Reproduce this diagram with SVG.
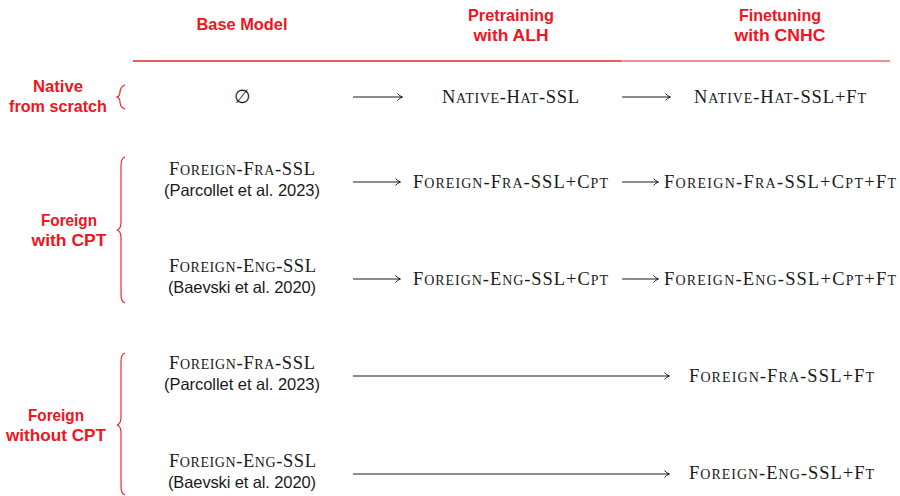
<svg xmlns="http://www.w3.org/2000/svg" width="900" height="496" viewBox="0 0 900 496">
<style>
.hd{font-family:"Liberation Sans",Arial,sans-serif;font-weight:bold;font-size:16.5px;fill:#f0141e;text-anchor:middle}
.sc{font-family:"Liberation Serif","Times New Roman",serif;font-size:18.5px;fill:#1a1a1a}
.s{font-size:14px}
.ref{font-family:"Liberation Sans",Arial,sans-serif;font-size:16.5px;fill:#1a1a1a;text-anchor:middle}
.arr{stroke:#1a1a1a;stroke-width:1.1;fill:none;marker-end:url(#ah)}
.br{stroke:#f0141e;stroke-width:1.1;fill:none}
</style>
<defs>
<marker id="ah" markerWidth="8" markerHeight="8" refX="5.5" refY="4" orient="auto" markerUnits="userSpaceOnUse">
<path d="M1,0.6 Q3,3 6,4 Q3,5 1,7.4" fill="none" stroke="#1a1a1a" stroke-width="1"/>
</marker>
</defs>
<rect width="900" height="496" fill="#fff"/>
<g id="headers">
<text class="hd" x="242" y="30" textLength="91" lengthAdjust="spacingAndGlyphs">Base Model</text>
<text class="hd" x="511" y="21" textLength="86" lengthAdjust="spacingAndGlyphs">Pretraining</text>
<text class="hd" x="511" y="41" textLength="75" lengthAdjust="spacingAndGlyphs">with ALH</text>
<text class="hd" x="780" y="21" textLength="82" lengthAdjust="spacingAndGlyphs">Finetuning</text>
<text class="hd" x="780" y="41" textLength="91" lengthAdjust="spacingAndGlyphs">with CNHC</text>
<line x1="133" y1="61" x2="621" y2="61" stroke="#e8242a" stroke-width="1.3"/>
<line x1="621" y1="61" x2="890" y2="61" stroke="#ef6a6e" stroke-width="1.3"/>
</g>
<g id="group-native">
<text class="hd" x="58" y="92" textLength="50" lengthAdjust="spacingAndGlyphs">Native</text>
<text class="hd" x="58" y="112" textLength="98" lengthAdjust="spacingAndGlyphs">from scratch</text>
<path class="br" d="M125,85 Q120,87 120,92 Q120,96 117,97 Q120,98 120,102 Q120,107 125,109"/>
</g>
<g id="group-cpt">
<text class="hd" x="69" y="226" textLength="56" lengthAdjust="spacingAndGlyphs">Foreign</text>
<text class="hd" x="69" y="246" textLength="75" lengthAdjust="spacingAndGlyphs">with CPT</text>
<path class="br" d="M125,157 Q121,158 121,166 L121,222 Q121,229 117,230 Q121,231 121,238 L121,294 Q121,302 125,303"/>
</g>
<g id="group-nocpt">
<text class="hd" x="56" y="421" textLength="56" lengthAdjust="spacingAndGlyphs">Foreign</text>
<text class="hd" x="56" y="441" textLength="100" lengthAdjust="spacingAndGlyphs">without CPT</text>
<path class="br" d="M125,353 Q121,354 121,362 L121,417 Q121,424 117,425 Q121,426 121,433 L121,486 Q121,494 125,495"/>
</g>
<g id="n-empty"><text class="sc" x="242" y="103" text-anchor="middle" font-size="17">∅</text></g>
<g id="n-native-hat"><text class="sc" x="442" y="103" textLength="137">N<tspan class="s">ATIVE</tspan>-H<tspan class="s">AT</tspan>-SSL</text></g>
<g id="n-native-hat-ft"><text class="sc" x="694" y="103" textLength="172">N<tspan class="s">ATIVE</tspan>-H<tspan class="s">AT</tspan>-SSL+F<tspan class="s">T</tspan></text></g>
<g id="n-fra1"><text class="sc" x="169" y="175" textLength="146">F<tspan class="s">OREIGN</tspan>-F<tspan class="s">RA</tspan>-SSL</text><text class="ref" x="242" y="196" textLength="156">(Parcollet et al. 2023)</text></g>
<g id="n-fra-cpt"><text class="sc" x="413" y="188" textLength="195">F<tspan class="s">OREIGN</tspan>-F<tspan class="s">RA</tspan>-SSL+C<tspan class="s">PT</tspan></text></g>
<g id="n-fra-cpt-ft"><text class="sc" x="664" y="188" textLength="232">F<tspan class="s">OREIGN</tspan>-F<tspan class="s">RA</tspan>-SSL+C<tspan class="s">PT</tspan>+F<tspan class="s">T</tspan></text></g>
<g id="n-eng1"><text class="sc" x="169" y="272" textLength="147">F<tspan class="s">OREIGN</tspan>-E<tspan class="s">NG</tspan>-SSL</text><text class="ref" x="242" y="293" textLength="148">(Baevski et al. 2020)</text></g>
<g id="n-eng-cpt"><text class="sc" x="413" y="285" textLength="195">F<tspan class="s">OREIGN</tspan>-E<tspan class="s">NG</tspan>-SSL+C<tspan class="s">PT</tspan></text></g>
<g id="n-eng-cpt-ft"><text class="sc" x="664" y="285" textLength="232">F<tspan class="s">OREIGN</tspan>-E<tspan class="s">NG</tspan>-SSL+C<tspan class="s">PT</tspan>+F<tspan class="s">T</tspan></text></g>
<g id="n-fra2"><text class="sc" x="169" y="369" textLength="146">F<tspan class="s">OREIGN</tspan>-F<tspan class="s">RA</tspan>-SSL</text><text class="ref" x="242" y="390" textLength="156">(Parcollet et al. 2023)</text></g>
<g id="n-fra-ft"><text class="sc" x="689" y="382" textLength="185">F<tspan class="s">OREIGN</tspan>-F<tspan class="s">RA</tspan>-SSL+F<tspan class="s">T</tspan></text></g>
<g id="n-eng2"><text class="sc" x="169" y="467" textLength="147">F<tspan class="s">OREIGN</tspan>-E<tspan class="s">NG</tspan>-SSL</text><text class="ref" x="242" y="488" textLength="148">(Baevski et al. 2020)</text></g>
<g id="n-eng-ft"><text class="sc" x="689" y="479" textLength="185">F<tspan class="s">OREIGN</tspan>-E<tspan class="s">NG</tspan>-SSL+F<tspan class="s">T</tspan></text></g>
<g id="connectors">
<line class="arr" x1="353" y1="97" x2="402" y2="97"/>
<line class="arr" x1="622" y1="97" x2="670" y2="97"/>
<line class="arr" x1="353" y1="182" x2="400" y2="182"/>
<line class="arr" x1="622" y1="182" x2="658" y2="182"/>
<line class="arr" x1="353" y1="279" x2="400" y2="279"/>
<line class="arr" x1="622" y1="279" x2="658" y2="279"/>
<line class="arr" x1="353" y1="376" x2="669" y2="376"/>
<line class="arr" x1="353" y1="474" x2="669" y2="474"/>
</g>
</svg>
